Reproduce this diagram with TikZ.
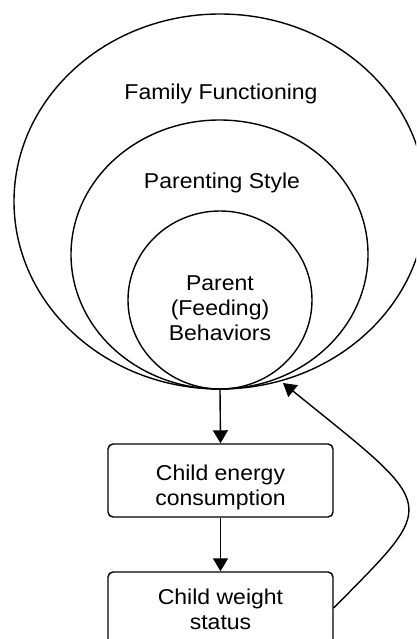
\documentclass[tikz,border=0pt]{standalone}
\usepackage{fontspec}
\setmainfont{Liberation Sans}[FakeStretch=1.07]
\usetikzlibrary{shapes.geometric,arrows.meta}
\begin{document}
\begin{tikzpicture}[x=1pt,y=-1pt,line width=1.4pt,
  ring/.style={draw,ellipse,inner sep=0pt},
  stepbox/.style={draw,rounded corners=5pt,minimum width=225pt,inner sep=0pt},
  lbl/.style={font=\fontsize{21.5}{25}\selectfont,align=center,inner sep=0pt},
  flow/.style={-{Triangle[length=13pt,width=15pt]}}]
\useasboundingbox (0,0) rectangle (416,639);
\clip (0,0) rectangle (416,639);

% nested influences
\node[ring,minimum width=412pt,minimum height=375pt] (family) at (220,201.5) {};
\node[ring,minimum width=297pt,minimum height=269pt] (style) at (219.5,254.5) {};
\node[ring,minimum width=184pt,minimum height=178pt] (behav) at (220,300) {};

\node[lbl,anchor=base] (familytxt) at (221,100) {Family Functioning};
\node[lbl,anchor=base] (styletxt) at (222,188) {Parenting Style};
\node[lbl] (behavtxt) at (220,308) {Parent\\(Feeding)\\Behaviors};

% child outcomes
\node[stepbox,minimum height=73pt] (energy) at (220.5,480.5) {};
\node[lbl] (energytxt) at (220.5,487) {Child energy\\consumption};
\node[stepbox,minimum height=80pt] (weight) at (220.5,612) {};
\node[lbl] (weighttxt) at (220.5,609) {Child weight\\status};

% arrows
\draw[flow] (behav.south) -- (energy.north);
\draw[flow] (energy.south) -- (weight.north);
\coordinate (fbend) at (283,383);
\draw[flow] ([yshift=4pt]weight.east) .. controls (440,500) and (440,510) .. (fbend);
\end{tikzpicture}
\end{document}
